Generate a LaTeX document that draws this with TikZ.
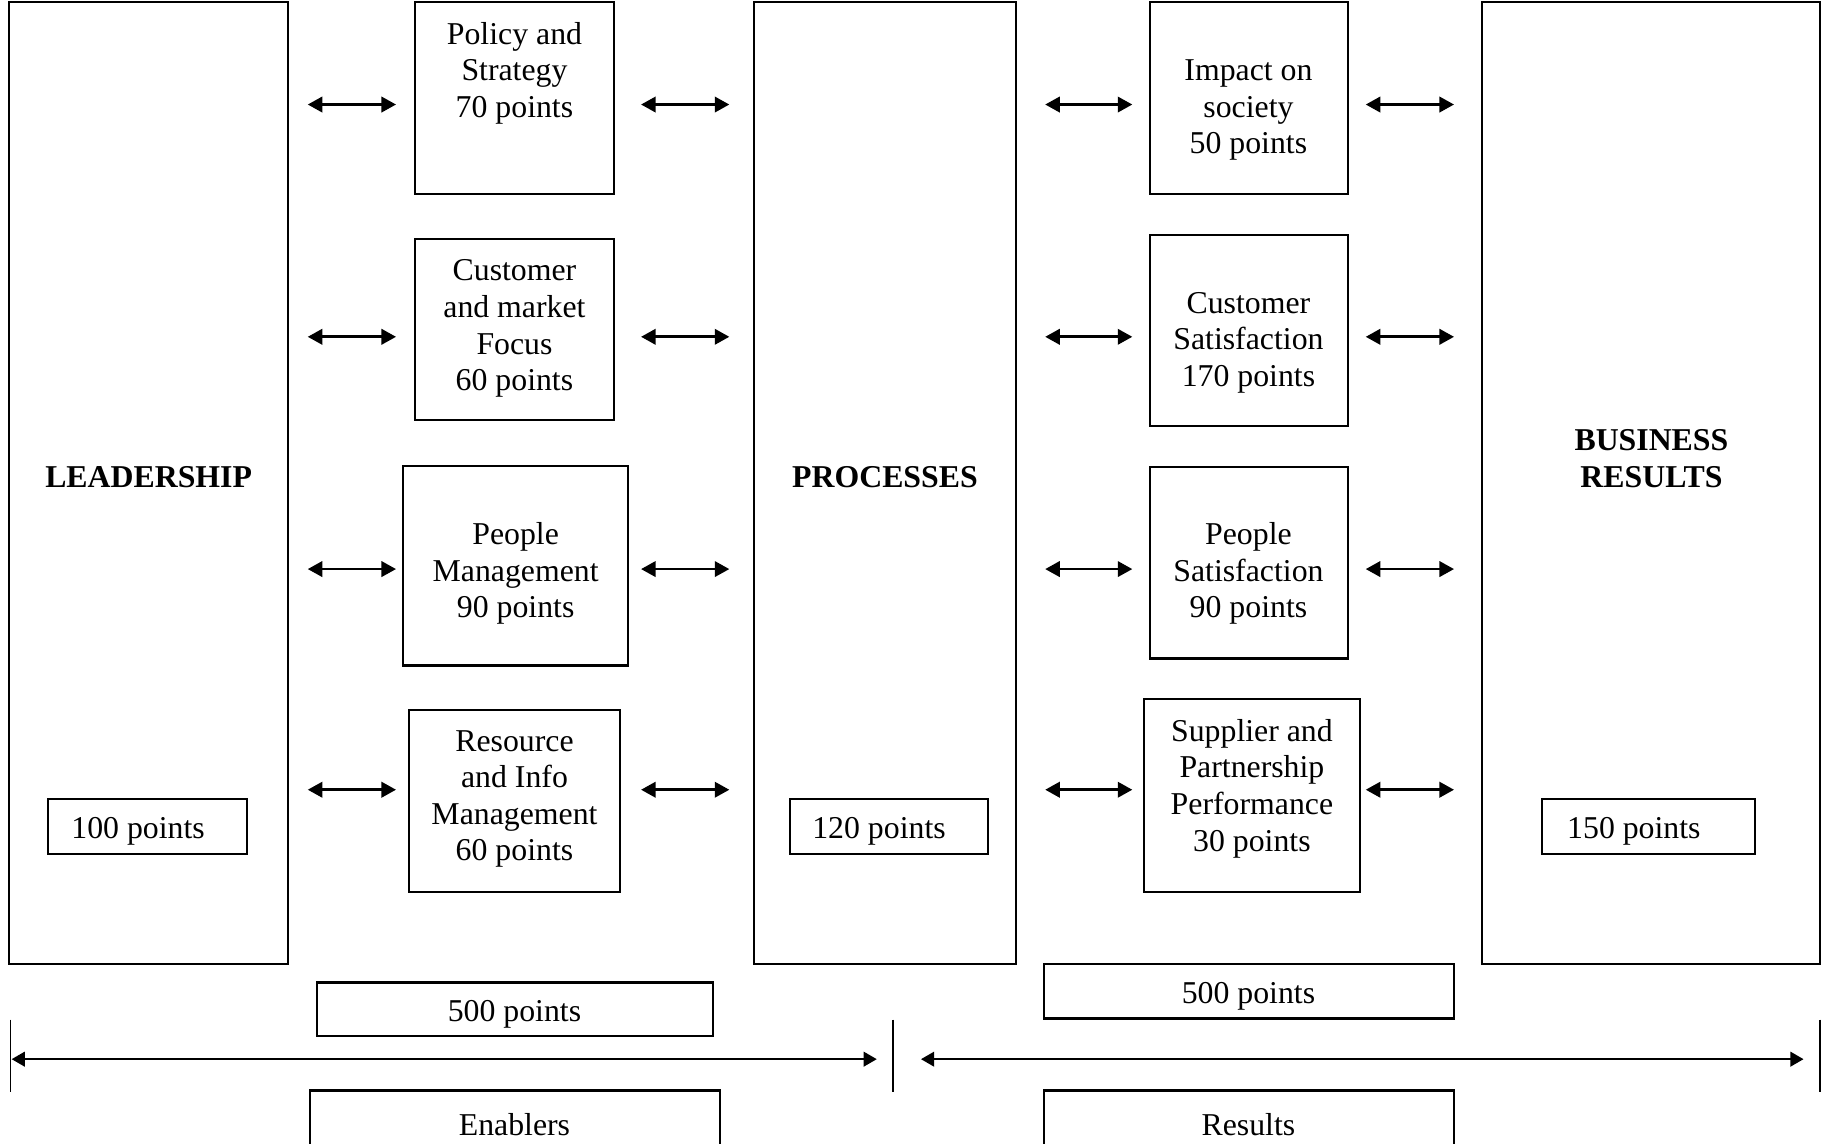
\documentclass[tikz,border=0pt]{standalone}
\usepackage{fontspec}
\setmainfont{Liberation Serif}
\usetikzlibrary{arrows.meta,fit}
\begin{document}
\begin{tikzpicture}[x=0.4383pt,y=-0.4383pt,
  frame/.style={draw, line width=0.8pt, inner sep=0pt},
  lbl/.style={align=center, inner sep=0pt, font=\fontsize{12}{13.8}\selectfont},
  head/.style={lbl, font=\fontsize{12}{13.8}\selectfont\bfseries},
  biarrow/.style={line width=1pt, {Triangle[length=5.5pt,width=5.8pt]}-{Triangle[length=5.5pt,width=5.8pt]}},
  spanarrow/.style={line width=0.9pt, {Triangle[length=5pt,width=5.5pt]}-{Triangle[length=5pt,width=5.5pt]}},
  tick/.style={line width=0.5pt}
]
\useasboundingbox (0,0) rectangle (1568,985);
\clip (0,0) rectangle (1568,985);

% main columns
\node[frame, fit={(8,2) (248,830)}] (lead) {};
\node[frame, fit={(649,2) (875,830)}] (proc) {};
\node[frame, fit={(1276,2) (1567,830)}] (res) {};
\node[head] (lead-t) at (128,411) {LEADERSHIP};
\node[head] (proc-t) at (762,411) {PROCESSES};
\node[head] (res-t) at (1422,395) {BUSINESS\\RESULTS};

% enabler criteria
\node[frame, fit={(357,2) (529,167)}] (pol) {};
\node[frame, fit={(357,206) (529,362)}] (cmf) {};
\node[frame, fit={(347,401) (541,573)}] (pm) {};
\node[frame, fit={(352,611) (534,768)}] (rim) {};
\node[lbl] (pol-t) at (443,63) {Policy and\\Strategy\\70 points};
\node[lbl] (cmf-t) at (443,283) {Customer\\and market\\Focus\\60 points};
\node[lbl] (pm-t) at (444,494) {People\\Management\\90 points};
\node[lbl] (rim-t) at (443,688) {Resource\\and Info\\Management\\60 points};

% result criteria
\node[frame, fit={(990,2) (1161,167)}] (soc) {};
\node[frame, fit={(990,202) (1161,367)}] (cs) {};
\node[frame, fit={(990,402) (1161,567)}] (ps) {};
\node[frame, fit={(985,602) (1171,768)}] (spp) {};
\node[lbl] (soc-t) at (1075,95) {Impact on\\society\\50 points};
\node[lbl] (cs-t) at (1075,295) {Customer\\Satisfaction\\170 points};
\node[lbl] (ps-t) at (1075,494) {People\\Satisfaction\\90 points};
\node[lbl] (spp-t) at (1078,679) {Supplier and\\Partnership\\Performance\\30 points};

% point boxes inside the main columns
\node[frame, fit={(41,688) (213,735)}] (lead-p) {};
\node[frame, fit={(680,688) (851,735)}] (proc-p) {};
\node[frame, fit={(1328,688) (1511,735)}] (res-p) {};
\node[lbl, anchor=west] (lead-pt) at (61,716) {100 points};
\node[lbl, anchor=west] (proc-pt) at (699,716) {120 points};
\node[lbl, anchor=west] (res-pt) at (1349,716) {150 points};

% two-way arrows between the columns
\foreach \yy [count=\i] in {90,290,490,680} {
  \coordinate (la\i) at (265,\yy);  \coordinate (lb\i) at (341,\yy);
  \coordinate (ma\i) at (552,\yy);  \coordinate (mb\i) at (628,\yy);
  \coordinate (na\i) at (900,\yy);  \coordinate (nb\i) at (975,\yy);
  \coordinate (ra\i) at (1176,\yy); \coordinate (rb\i) at (1252,\yy);
  \draw[biarrow] (la\i) -- (lb\i);
  \draw[biarrow] (ma\i) -- (mb\i);
  \draw[biarrow] (na\i) -- (nb\i);
  \draw[biarrow] (ra\i) -- (rb\i);
}

% totals and group labels
\node[frame, fit={(273,846) (614,892)}] (en-tot) {};
\node[frame, fit={(899,830) (1252,877)}] (re-tot) {};
\node[lbl] (en-tot-t) at (443,873) {500 points};
\node[lbl] (re-tot-t) at (1075,858) {500 points};
\node[frame, fit={(267,939) (620,1000)}] (en) {};
\node[frame, fit={(899,939) (1252,1000)}] (re) {};
\node[lbl] (en-t) at (443,968) {Enablers};
\node[lbl] (re-t) at (1075,968) {Results};

% span markers
\coordinate (t1a) at (9,878);    \coordinate (t1b) at (9,940);
\coordinate (t2a) at (769,878);  \coordinate (t2b) at (769,940);
\coordinate (t3a) at (1567,878); \coordinate (t3b) at (1567,940);
\draw[tick] (t1a) -- (t1b);
\draw[tick] (t2a) -- (t2b);
\draw[tick] (t3a) -- (t3b);
\coordinate (s1a) at (10,912);  \coordinate (s1b) at (755,912);
\coordinate (s2a) at (793,912); \coordinate (s2b) at (1553,912);
\draw[spanarrow] (s1a) -- (s1b);
\draw[spanarrow] (s2a) -- (s2b);
\end{tikzpicture}
\end{document}
